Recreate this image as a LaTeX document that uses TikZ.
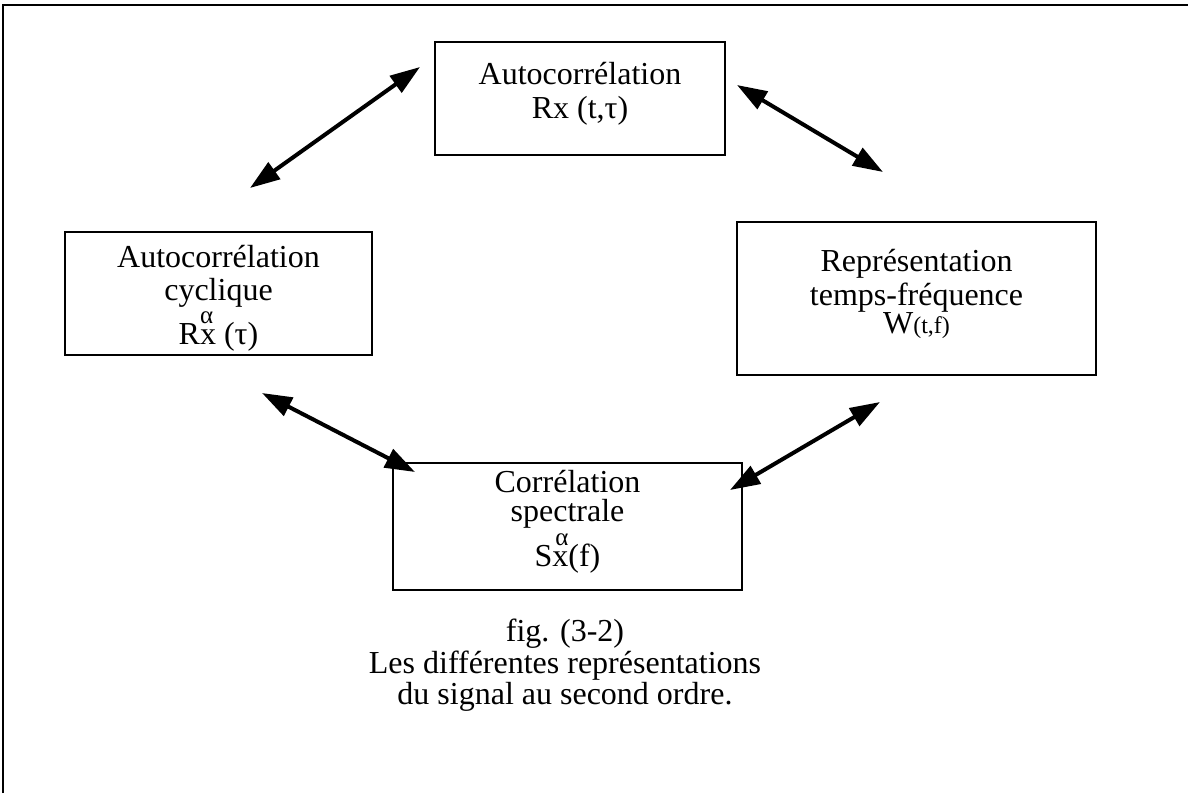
\documentclass[tikz,border=0pt]{standalone}
\usepackage{fontspec}
\setmainfont{Liberation Serif}
\usetikzlibrary{arrows.meta}
\newcommand{\supa}[1]{\makebox[0pt][l]{\raisebox{0.66em}{\hspace{#1}\fontsize{12.5}{12.5}\selectfont α}}}
\tikzset{
  box/.style={draw, line width=1.1pt, inner sep=0pt},
  boxtext/.style={align=center, inner sep=0pt, font=\fontsize{16}{16.8}\selectfont},
  dbl/.style={line width=2pt, {Triangle[length=15pt,width=10pt]}-{Triangle[length=15pt,width=10pt]}},
  captext/.style={align=center, font=\fontsize{16}{14}\selectfont}
}
\begin{document}
\begin{tikzpicture}[x=0.5pt,y=-0.5pt]
\useasboundingbox (0,0) rectangle (1188,793);
\draw[line width=1.2pt] (3,793) -- (3,5) -- (1188,5);
\node[box, minimum width=145pt, minimum height=56.5pt] (top) at (580,98.5) {};
\node[boxtext] (toptxt) at (580,94) {Autocorrélation\\Rx (t,τ)};
\node[box, minimum width=153.5pt, minimum height=61.5pt] (left) at (218.5,293.5) {};
\node[boxtext] (lefttxt) at (218.5,298) {Autocorrélation\\cyclique\\[1pt]R\supa{0pt}x (τ)};
\node[box, minimum width=179.5pt, minimum height=76.5pt] (right) at (916.5,298.5) {};
\node[boxtext] (righttxt) at (916.5,294)
  {Représentation\\temps-fréquence\\[-3pt]W{\fontsize{12}{12}\selectfont(t,f)}};
\node[box, minimum width=174.5pt, minimum height=63.5pt] (bot) at (567.5,526.5) {};
\node[align=center, inner sep=0pt, font=\fontsize{16}{14.5}\selectfont] (bottxt) at (567.5,522)
  {Corrélation\\spectrale\\[1.5pt]S\supa{1.5pt}x(f)};
\node[captext] (caption) at (565,665)
  {fig. (3-2)\\Les différentes représentations\\du signal au second ordre.};
\coordinate (a1s) at (420,67);  \coordinate (a1e) at (250,188);
\coordinate (a2s) at (737,85);  \coordinate (a2e) at (883,172);
\coordinate (a3s) at (262,393); \coordinate (a3e) at (415,472);
\coordinate (a4s) at (880,402); \coordinate (a4e) at (730,490);
\draw[dbl] (a1s) -- (a1e);
\draw[dbl] (a2s) -- (a2e);
\draw[dbl] (a3s) -- (a3e);
\draw[dbl] (a4s) -- (a4e);
\end{tikzpicture}
\end{document}
